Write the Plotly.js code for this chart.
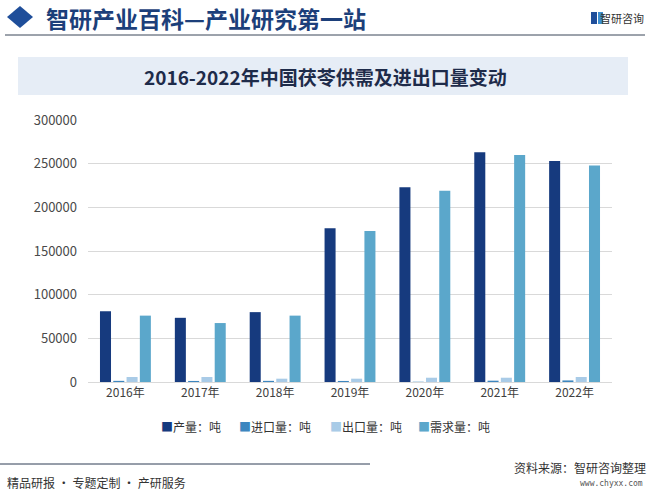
<!DOCTYPE html>
<html><head><meta charset="utf-8">
<script src="https://cdn.plot.ly/plotly-3.0.1.min.js"></script>
<style>html,body{margin:0;padding:0;background:#fff}#chart{width:650px;height:492px}</style>
</head><body><div id="chart"></div>
<script>
var years = ['2016年','2017年','2018年','2019年','2020年','2021年','2022年'];
var production = [81000, 73500, 80000, 176000, 223000, 263000, 253000];
var imports = [1300, 1200, 1300, 1200, 300, 1500, 1800];
var exports = [5700, 5700, 3800, 3800, 4900, 4900, 5700];
var demand = [76000, 67500, 76000, 173000, 219000, 260000, 248000];
var seriesNames = ['产量：吨','进口量：吨','出口量：吨','需求量：吨'];
var colors = ['#163a7e','#3d86bf','#a9cbe7','#5ba7cb'];
var legendX = [161, 239, 330, 418];

var L=88, R=612, T=120, B=382, W=R-L, H=B-T;
function X(px){return (px-L)/W;}
function Y(py){return (B-py)/H;}
function P(px,py){return X(px)+','+Y(py);}
var font = '"Noto Sans CJK SC", "Noto Sans", sans-serif';

var data = [production, imports, exports, demand].map(function(v,i){
  return {type:'bar', x:years, y:v, name:seriesNames[i], marker:{color:colors[i]}, hoverinfo:'y', showlegend:false};
});

var annotations = [
  {xref:'paper', yref:'paper', x:X(44), y:Y(18), text:'<b>智研产业百科—产业研究第一站</b>', showarrow:false, xanchor:'left', yanchor:'middle', font:{size:23, color:'#1c3f7a', family:font}},
  {xref:'paper', yref:'paper', x:X(646), y:Y(18), text:'智研咨询', showarrow:false, xanchor:'right', yanchor:'middle', font:{size:11, color:'#333333', family:font}},
  {xref:'paper', yref:'paper', x:X(325), y:Y(77), text:'<b>2016-2022年中国茯苓供需及进出口量变动</b>', showarrow:false, xanchor:'center', yanchor:'middle', font:{size:19, color:'#1e2b4a', family:font}},
  {xref:'paper', yref:'paper', x:X(5), y:Y(482), text:'精品研报 · 专题定制 · 产研服务', showarrow:false, xanchor:'left', yanchor:'middle', font:{size:12, color:'#333333', family:font}},
  {xref:'paper', yref:'paper', x:X(648), y:Y(467), text:'资料来源：智研咨询整理', showarrow:false, xanchor:'right', yanchor:'middle', font:{size:12, color:'#333333', family:font}},
  {xref:'paper', yref:'paper', x:X(645), y:Y(484), text:'www.chyxx.com', showarrow:false, xanchor:'right', yanchor:'middle', font:{size:8, color:'#555555', family:'"DejaVu Sans Mono", monospace'}}
];
seriesNames.forEach(function(n,i){
  annotations.push({xref:'paper', yref:'paper', x:X(legendX[i]-2), y:Y(426), xanchor:'left', yanchor:'middle', showarrow:false,
    text:'<span style="color:'+colors[i]+'">■</span>'+n, font:{size:12, color:'#333333', family:font}});
});

var layout = {
  width:650, height:492,
  margin:{l:L, r:650-R, t:T, b:492-B},
  paper_bgcolor:'#ffffff', plot_bgcolor:'#ffffff',
  barmode:'group', bargap:0.29, bargroupgap:0.17,
  font:{family:font, size:12, color:'#595959'},
  showlegend:false,
  xaxis:{type:'category', showgrid:false, showline:true, linecolor:'#d9d9d9', linewidth:1, ticks:'', tickfont:{size:12, color:'#404040'}, fixedrange:true},
  yaxis:{range:[0,300000], dtick:50000, tickformat:'d', showgrid:true, gridcolor:'#d9d9d9', gridwidth:1, zeroline:false, showline:false, ticks:'', tickfont:{size:13, color:'#4a4a4a'}, ticklabelstandoff:10, fixedrange:true},
  shapes:[
    {type:'path', xref:'paper', yref:'paper', path:'M'+P(7,17)+' L'+P(20,6)+' L'+P(33,17)+' L'+P(20,28)+' Z', fillcolor:'#1f4e9a', line:{width:0}},
    {type:'line', xref:'paper', yref:'paper', x0:X(5), x1:X(645), y0:Y(35), y1:Y(35), line:{color:'#3b4658', width:1}},
    {type:'rect', xref:'paper', yref:'paper', x0:X(18), x1:X(628), y0:Y(57), y1:Y(95), fillcolor:'#e6edf6', line:{width:0}, layer:'below'},
    {type:'line', xref:'paper', yref:'paper', x0:X(0), x1:X(370), y0:Y(464), y1:Y(464), line:{color:'#2f3d54', width:1}},
    {type:'rect', xref:'paper', yref:'paper', x0:X(591), x1:X(597), y0:Y(12), y1:Y(24), fillcolor:'#1f4e9a', line:{width:0}},
    {type:'rect', xref:'paper', yref:'paper', x0:X(598), x1:X(603), y0:Y(12), y1:Y(24), fillcolor:'#3d8fd1', line:{width:0}}
  ],
  annotations:annotations
};
Plotly.newPlot('chart', data, layout, {displayModeBar:false, staticPlot:true});
</script></body></html>
